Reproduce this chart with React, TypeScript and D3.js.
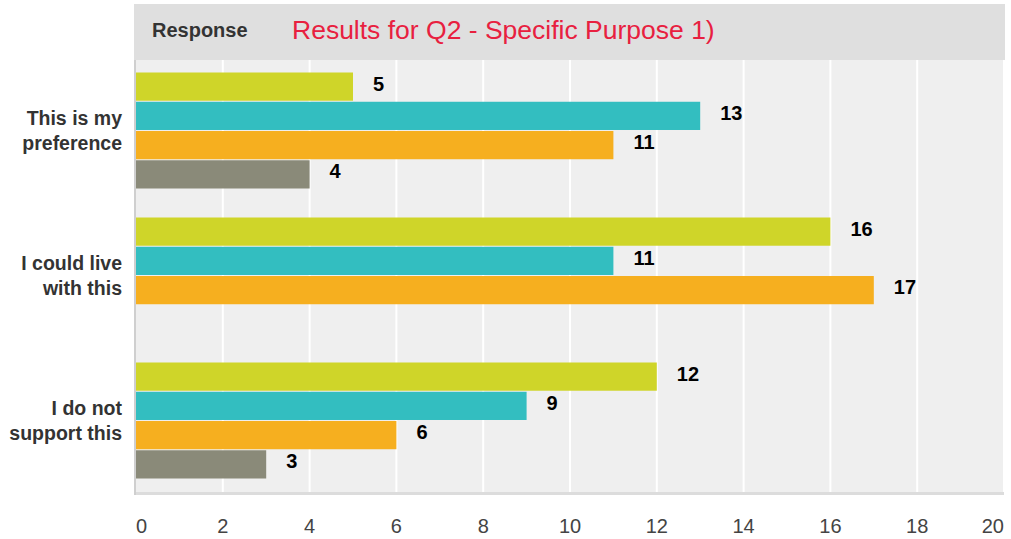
import React, { useEffect, useRef } from 'react';
import * as d3 from 'd3';

// responses (y categories), each with two label lines
const responses = ['This is my|preference', 'I could live|with this', 'I do not|support this'];
// four answer series, one value per response (null = no bar)
const series1 = [5, 16, 12];
const series2 = [13, 11, 9];
const series3 = [11, 17, 6];
const series4: (number | null)[] = [4, null, 3];
const seriesColors = ['#cfd529', '#33bec0', '#f6af1f', '#8a8a79'];
const xTicks = [0, 2, 4, 6, 8, 10, 12, 14, 16, 18, 20];

const W = 1011,
    H = 539;
const FONT = '"Liberation Sans", Arial, sans-serif';

function App() {
    const ref = useRef<SVGSVGElement>(null);

    useEffect(() => {
        const svg = d3.select(ref.current);
        svg.selectAll('*').remove();

        const left = 135,
            right = 1004,
            top = 60,
            bottom = 493;

        const allSeries = [series1, series2, series3, series4];

        const x = d3.scaleLinear().domain([0, 20]).range([left + 1, right]);
        const y0 = d3.scaleBand().domain(d3.range(responses.length).map(String)).range([58, 493]);
        const y1 = d3.scaleBand()
            .domain(d3.range(allSeries.length).map(String))
            .range([-58, 58])
            .paddingInner(0.035);

        // header band
        svg.append('rect')
            .attr('x', left - 1).attr('y', 4)
            .attr('width', right - left + 2).attr('height', top - 4)
            .attr('fill', '#dfdfdf');
        svg.append('text')
            .attr('x', 152).attr('y', 37)
            .attr('font-family', FONT).attr('font-size', 20).attr('font-weight', 'bold')
            .attr('fill', '#333')
            .text('Response');
        svg.append('text')
            .attr('x', 292).attr('y', 39)
            .attr('font-family', FONT).attr('font-size', 26.5)
            .attr('fill', '#e8203f')
            .text('Results for Q2 - Specific Purpose 1)');

        // plot background
        svg.append('rect')
            .attr('x', left).attr('y', top)
            .attr('width', right - left).attr('height', bottom - top)
            .attr('fill', '#efefef');

        // white gridlines
        svg.selectAll('line.grid')
            .data(xTicks.filter(d => d > 0))
            .enter()
            .append('line')
            .attr('class', 'grid')
            .attr('x1', d => x(d)).attr('x2', d => x(d))
            .attr('y1', top).attr('y2', bottom)
            .attr('stroke', '#fff').attr('stroke-width', 2);

        // bars
        responses.forEach((r, i) => {
            const g = svg.append('g').attr('transform', `translate(0,${y0(String(i))! + y0.bandwidth() / 2})`);
            allSeries.forEach((s, j) => {
                const v = s[i];
                if (v == null) return;
                const yy = y1(String(j))!;
                g.append('rect')
                    .attr('x', x(0)).attr('y', yy)
                    .attr('width', x(v) - x(0)).attr('height', y1.bandwidth())
                    .attr('fill', seriesColors[j]);
                g.append('text')
                    .attr('x', x(v) + 20).attr('y', yy + y1.bandwidth() / 2 + 4)
                    .attr('font-family', FONT).attr('font-size', 20).attr('font-weight', 'bold')
                    .attr('fill', '#000')
                    .text(v);
            });

            // category label
            const lines = r.split('|');
            const t = g.append('text')
                .attr('text-anchor', 'end')
                .attr('font-family', FONT).attr('font-size', 19.5).attr('font-weight', 'bold')
                .attr('fill', '#333');
            lines.forEach((ln, k) => {
                t.append('tspan').attr('x', 122).attr('y', (k - (lines.length - 1) / 2) * 25 + 7).text(ln);
            });
        });

        // axes lines
        svg.append('rect')
            .attr('x', left).attr('y', bottom - 1)
            .attr('width', right - left).attr('height', 3)
            .attr('fill', '#dcdcdc');
        svg.append('rect')
            .attr('x', left - 1).attr('y', top)
            .attr('width', 2).attr('height', bottom - top + 2)
            .attr('fill', '#cfcfcf');

        // tick labels
        svg.selectAll('text.tick')
            .data(xTicks)
            .enter()
            .append('text')
            .attr('class', 'tick')
            .attr('x', d => x(d))
            .attr('y', 533)
            .attr('text-anchor', (d, i) => (i === 0 ? 'start' : i === xTicks.length - 1 ? 'end' : 'middle'))
            .attr('font-family', FONT).attr('font-size', 20)
            .attr('fill', '#444')
            .text(d => d);
    }, []);

    return (
        <svg ref={ref} width={W} height={H} style={{ position: 'absolute', left: 0, top: 0, background: '#fff' }}></svg>
    );
}

export default App;
